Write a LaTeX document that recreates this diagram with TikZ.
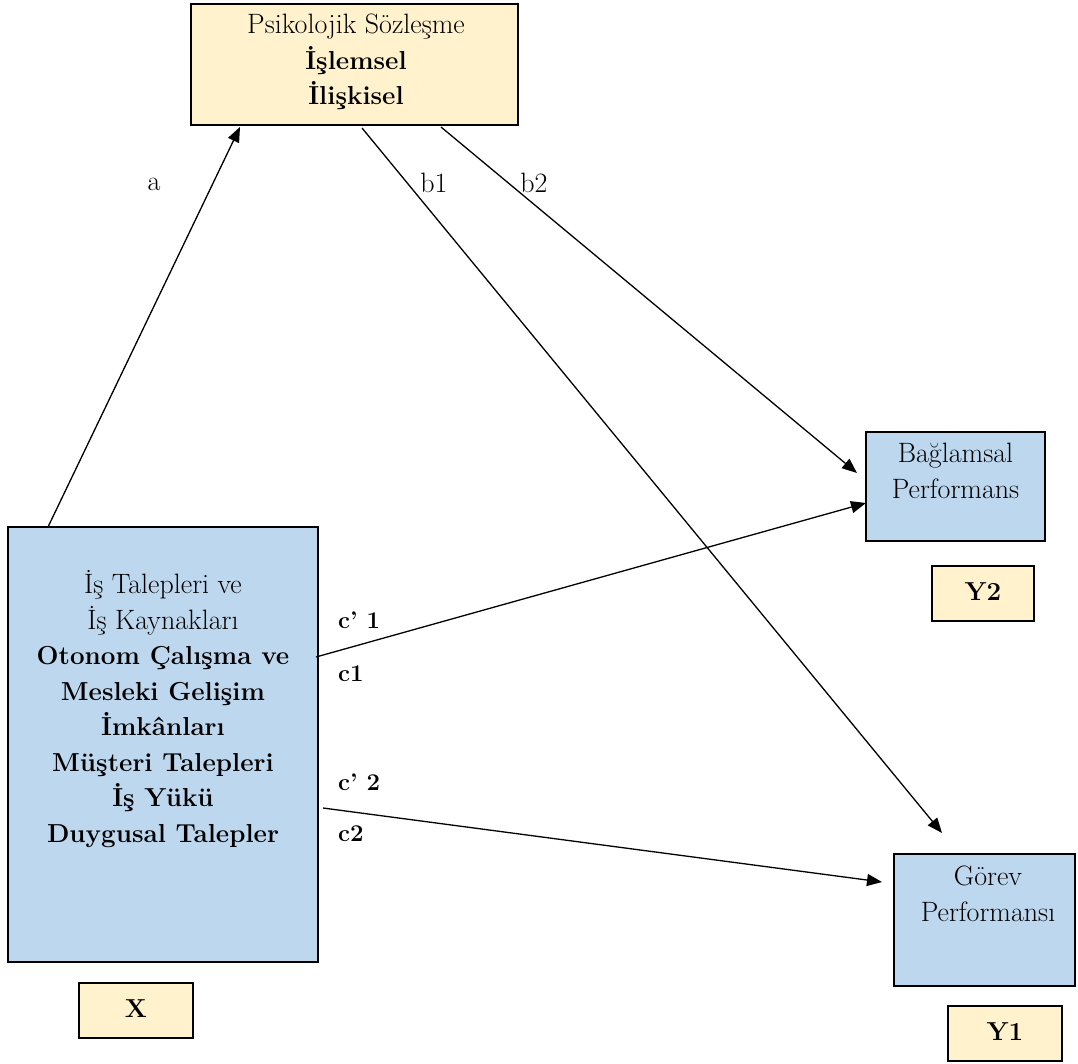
\documentclass[tikz,border=0pt]{standalone}
\usepackage{fontspec}
\usetikzlibrary{arrows.meta}
\definecolor{boxblue}{HTML}{BDD7EE}
\definecolor{boxyellow}{HTML}{FFF2CC}
\newcommand{\boldline}[1]{{\fontsize{26}{35.5}\selectfont\bfseries #1}}
\begin{document}
\begin{tikzpicture}[x=1pt,y=-1pt,
  frame/.style={draw=black,line width=1.6pt,rectangle,inner sep=0pt},
  bluebox/.style={frame,fill=boxblue},
  yellowbox/.style={frame,fill=boxyellow},
  txt/.style={align=center,font=\fontsize{28}{35.5}\selectfont,inner sep=0pt},
  lbl/.style={font=\fontsize{28}{30}\selectfont,inner sep=0pt},
  blbl/.style={font=\fontsize{24}{26}\selectfont\bfseries,inner sep=0pt,anchor=west},
  conn/.style={line width=1.3pt,-{Triangle[length=15pt,width=12pt]}}]
\useasboundingbox (0,0) rectangle (1078,1064);
% boxes
\path[yellowbox] (191,4) rectangle (518,125);
\node[txt] (top) at (356,62) {Psikolojik Sözleşme\\\boldline{İşlemsel}\\\boldline{İlişkisel}};
\path[bluebox] (8,527) rectangle (318,962);
\node[txt] (X) at (163,709) {İş Talepleri ve\\İş Kaynakları\\\boldline{Otonom Çalışma ve}\\\boldline{Mesleki Gelişim}\\\boldline{İmkânları}\\\boldline{Müşteri Talepleri}\\\boldline{İş Yükü}\\\boldline{Duygusal Talepler}};
\path[yellowbox] (79,983) rectangle (193,1038);
\node[txt] (Xl) at (136,1009) {\boldline{X}};
\path[bluebox] (866,432) rectangle (1045,541);
\node[txt] (Y2t) at (955.5,471) {Bağlamsal\\Performans};
\path[yellowbox] (932,566) rectangle (1034,621);
\node[txt] (Y2) at (983,592) {\boldline{Y2}};
\path[bluebox] (894,854) rectangle (1075,986);
\node[txt] (Y1t) at (988,894) {Görev\\Performansı};
\path[yellowbox] (948,1006) rectangle (1062,1061);
\node[txt] (Y1) at (1005,1032) {\boldline{Y1}};
% connector end points
\coordinate (aS) at (48,527);
\coordinate (aE) at (240,127);
\coordinate (b1S) at (362,128);
\coordinate (b1E) at (942,833);
\coordinate (b2S) at (441,127);
\coordinate (b2E) at (857,473);
\coordinate (c1S) at (316,657);
\coordinate (c1E) at (866,503);
\coordinate (c2S) at (323,808);
\coordinate (c2E) at (882,882);
\draw[conn] (aS) -- (aE);
\draw[conn] (b1S) -- (b1E);
\draw[conn] (b2S) -- (b2E);
\draw[conn] (c1S) -- (c1E);
\draw[conn] (c2S) -- (c2E);
% labels
\node[lbl] (la) at (154,184) {a};
\node[lbl] (lb1) at (434,183) {b1};
\node[lbl] (lb2) at (534,183) {b2};
\node[blbl] (lc1p) at (338,620) {c’ 1};
\node[blbl] (lc1) at (338,674) {c1};
\node[blbl] (lc2p) at (338,782) {c’ 2};
\node[blbl] (lc2) at (338,834) {c2};
\end{tikzpicture}
\end{document}
